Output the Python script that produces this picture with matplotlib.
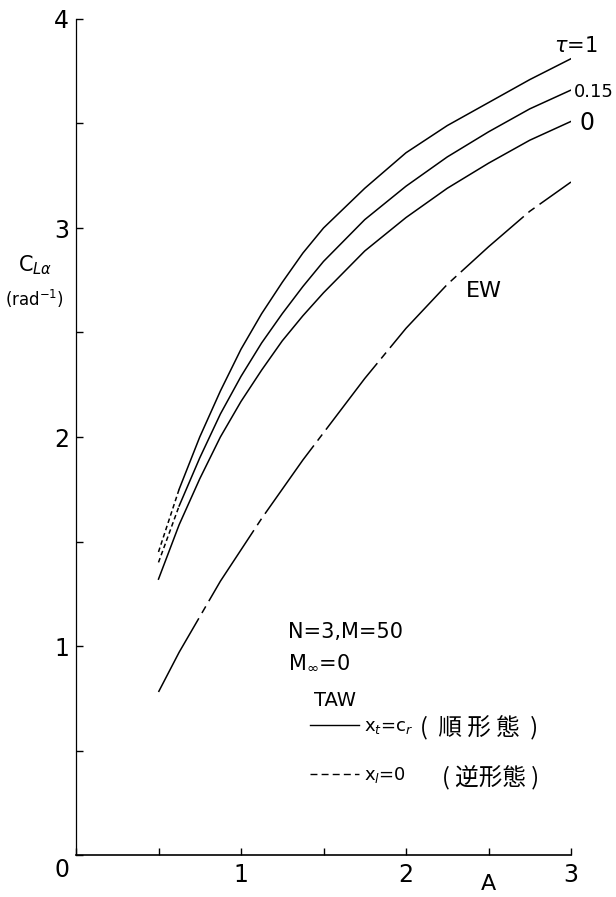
import matplotlib.pyplot as plt
from matplotlib.lines import Line2D
from matplotlib.ticker import MultipleLocator

# aspect ratio A and lift-curve slope C_La (1/rad)
aspect = [0.5, 0.625, 0.75, 0.875, 1.0, 1.125, 1.25, 1.375, 1.5,
          1.75, 2.0, 2.25, 2.5, 2.75, 3.0]
cla_tau1 = [1.45, 1.75, 2.00, 2.22, 2.42, 2.59, 2.74, 2.88, 3.00,
            3.19, 3.36, 3.49, 3.60, 3.71, 3.81]
cla_tau015 = [1.40, 1.67, 1.90, 2.11, 2.29, 2.45, 2.59, 2.72, 2.84,
              3.04, 3.20, 3.34, 3.46, 3.57, 3.66]
cla_tau0 = [1.32, 1.58, 1.80, 2.00, 2.17, 2.32, 2.46, 2.58, 2.69,
            2.89, 3.05, 3.19, 3.31, 3.42, 3.51]
cla_ew = [0.78, 0.97, 1.14, 1.31, 1.46, 1.61, 1.75, 1.89, 2.02,
          2.28, 2.52, 2.73, 2.91, 3.08, 3.22]

x_ticks = [1, 2, 3]
y_ticks = [1, 2, 3, 4]

plt.rcParams['font.family'] = ['DejaVu Sans', 'Noto Sans CJK JP']

fig = plt.figure(figsize=(6.16, 8.97), dpi=100)
ax = fig.add_axes([76 / 616, 1 - 855 / 897, 495 / 616, 836 / 897])

lw = 1.1
# TAW curves; the reverse-form (dashed) branch only shows at the low-A end
for cla in [cla_tau1, cla_tau015]:
    ax.plot(aspect[:2], cla[:2], color='k', lw=lw, ls=(0, (3, 2)))
    ax.plot(aspect[1:], cla[1:], color='k', lw=lw)
ax.plot(aspect, cla_tau0, color='k', lw=lw)
ax.plot(aspect, cla_ew, color='k', lw=lw, ls=(0, (55, 4, 5, 4)))

ax.set_xlim(0, 3)
ax.set_ylim(0, 4)
for side in ['top', 'right']:
    ax.spines[side].set_visible(False)
ax.spines['left'].set_linestyle((0, (8, 1)))
ax.spines['left'].set_linewidth(0.9)
ax.spines['bottom'].set_linewidth(1.2)

ax.set_xticks(x_ticks)
ax.set_yticks(y_ticks)
ax.xaxis.set_minor_locator(MultipleLocator(0.5))
ax.yaxis.set_minor_locator(MultipleLocator(0.5))
ax.tick_params(which='both', direction='in', length=5, width=1.0, labelsize=17)
ax.tick_params(axis='x', pad=6)
ax.tick_params(axis='y', pad=5)

ax.text(-0.085, -0.07, '0', fontsize=17, ha='center', va='center', clip_on=False)
ax.text(2.5, -0.14, 'A', fontsize=16, ha='center', va='center', clip_on=False)
ax.text(-0.25, 2.82, r'C$_{L\alpha}$', fontsize=15, ha='center', va='center', clip_on=False)
ax.text(-0.25, 2.66, r'(rad$^{-1}$)', fontsize=12, ha='center', va='center', clip_on=False)

# curve labels
ax.text(2.90, 3.87, r'$\tau$=1', fontsize=15, ha='left', va='center', clip_on=False)
ax.text(3.02, 3.65, '0.15', fontsize=13, ha='left', va='center', clip_on=False)
ax.text(3.05, 3.50, '0', fontsize=17, ha='left', va='center', clip_on=False)
ax.text(2.47, 2.70, 'EW', fontsize=16, ha='center', va='center')

ax.text(1.285, 1.067, 'N=3,M=50', fontsize=15, ha='left', va='center')
ax.text(1.285, 0.92, r'M$_{\infty}$=0', fontsize=15, ha='left', va='center')
ax.text(1.44, 0.74, 'TAW', fontsize=14, ha='left', va='center')

handles = [Line2D([], [], color='k', lw=1.0),
           Line2D([], [], color='k', lw=1.0, ls=(0, (5, 3)))]
labels = [r'x$_t$=c$_r$', r'x$_l$=0']
ax.legend(handles, labels, frameon=False,
          loc='upper left', bbox_to_anchor=(1.42, 0.66),
          bbox_transform=ax.transData, fontsize=13,
          handlelength=2.7, handletextpad=0.25, labelspacing=1.6,
          borderpad=0, borderaxespad=0)
ax.text(2.085, 0.608, '(  順 形 態  )', fontsize=17, ha='left', va='center',
        family=['Noto Sans CJK JP', 'DejaVu Sans'])
ax.text(2.218, 0.368, '( 逆形態 )', fontsize=17, ha='left', va='center',
        family=['Noto Sans CJK JP', 'DejaVu Sans'])

fig.savefig('out.png', dpi=100)
